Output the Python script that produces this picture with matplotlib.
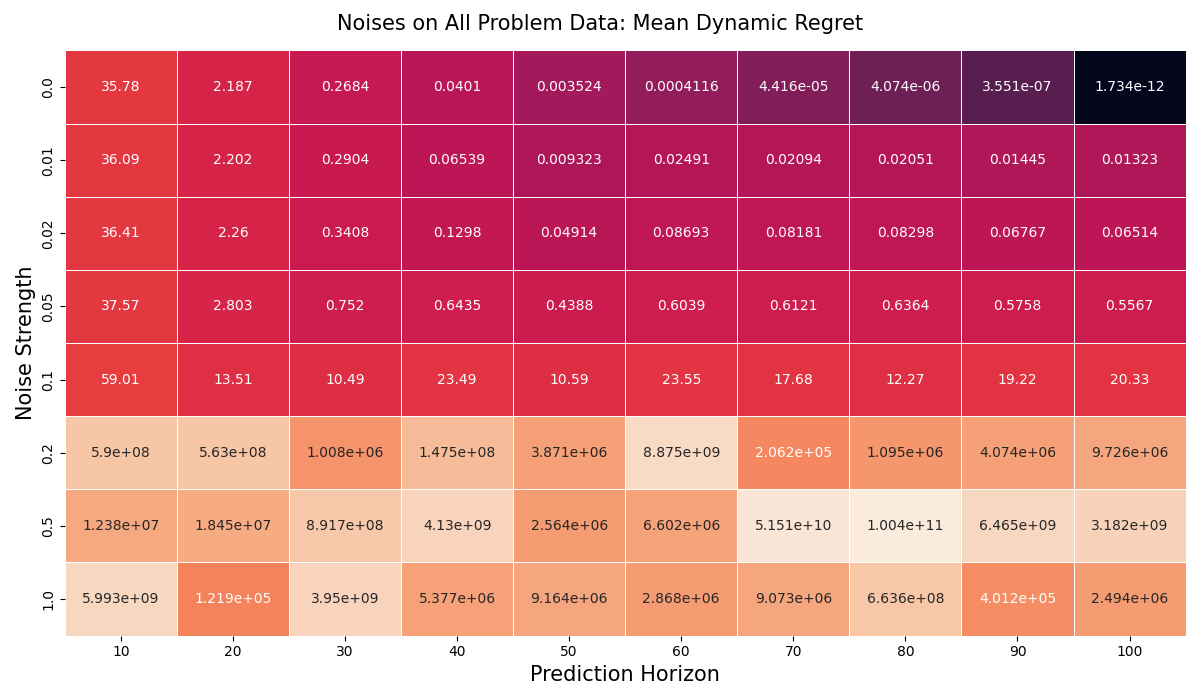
import matplotlib
matplotlib.use("Agg")
import matplotlib.pyplot as plt
import numpy as np
import pandas as pd
import seaborn as sns
from matplotlib.colors import LogNorm

# Axis labels
horizons = [10, 20, 30, 40, 50, 60, 70, 80, 90, 100]
noises = [0.0, 0.01, 0.02, 0.05, 0.1, 0.2, 0.5, 1.0]

# Mean dynamic regret, one list per noise level
row_00 = [35.78, 2.187, 0.2684, 0.0401, 0.003524, 0.0004116, 4.416e-05, 4.074e-06, 3.551e-07, 1.734e-12]
row_001 = [36.09, 2.202, 0.2904, 0.06539, 0.009323, 0.02491, 0.02094, 0.02051, 0.01445, 0.01323]
row_002 = [36.41, 2.26, 0.3408, 0.1298, 0.04914, 0.08693, 0.08181, 0.08298, 0.06767, 0.06514]
row_005 = [37.57, 2.803, 0.752, 0.6435, 0.4388, 0.6039, 0.6121, 0.6364, 0.5758, 0.5567]
row_01 = [59.01, 13.51, 10.49, 23.49, 10.59, 23.55, 17.68, 12.27, 19.22, 20.33]
row_02 = [5.9e+08, 5.63e+08, 1.008e+06, 1.475e+08, 3.871e+06, 8.875e+09, 2.062e+05, 1.095e+06, 4.074e+06, 9.726e+06]
row_05 = [1.238e+07, 1.845e+07, 8.917e+08, 4.13e+09, 2.564e+06, 6.602e+06, 5.151e+10, 1.004e+11, 6.465e+09, 3.182e+09]
row_10 = [5.993e+09, 1.219e+05, 3.95e+09, 5.377e+06, 9.164e+06, 2.868e+06, 9.073e+06, 6.636e+08, 4.012e+05, 2.494e+06]

df = pd.DataFrame([row_00, row_001, row_002, row_005, row_01, row_02, row_05, row_10],
                  index=noises, columns=horizons)

fig, ax = plt.subplots(figsize=(12, 7), dpi=100)

sns.heatmap(df, ax=ax, cmap="rocket", norm=LogNorm(vmin=df.values.min(), vmax=df.values.max()),
            annot=True, fmt=".4g", linewidths=0.5, linecolor="white", cbar=False,
            annot_kws={"fontsize": 10})

ax.set_xlabel("Prediction Horizon", fontsize=15)
ax.set_ylabel("Noise Strength", fontsize=15)
fig.suptitle("Noises on All Problem Data: Mean Dynamic Regret", fontsize=15, y=0.98)

plt.subplots_adjust(left=0.054, right=0.988, top=0.928, bottom=0.092)
fig.savefig("out.png")
